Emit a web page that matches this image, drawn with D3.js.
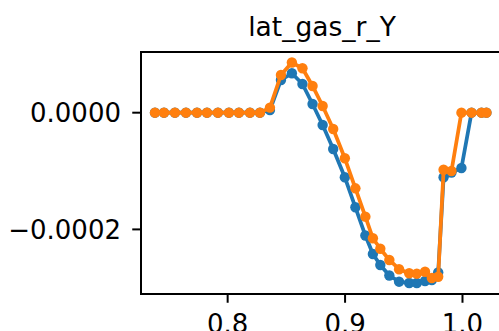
<!DOCTYPE html>
<html>
<head>
<meta charset="utf-8">
<script src="https://cdn.jsdelivr.net/npm/d3@7"></script>
<style>
  html, body { margin: 0; padding: 0; background: #fff; }
  svg { display: block; font-family: "DejaVu Sans", sans-serif; }
</style>
</head>
<body>
<svg id="chart" width="499" height="331"></svg>
<script>
const title = "lat_gas_r_Y";
const xValues = [0.7381, 0.7458, 0.7551, 0.7645, 0.7739, 0.7824, 0.7917, 0.8011, 0.8096, 0.8190,
  0.8275, 0.8360, 0.8454, 0.8547, 0.8637, 0.8723, 0.8809, 0.8899, 0.8998, 0.9088,
  0.9173, 0.9237, 0.9300, 0.9377, 0.9460, 0.9546, 0.9611, 0.9681, 0.9739, 0.9793,
  0.9839, 0.9906, 0.9991, 1.0077, 1.0162, 1.0204];
const seriesBlue = [0, 0, 0, 0, 0, 0, 0, 0, 0, 0,
  0, 0.046e-4, 0.560e-4, 0.675e-4, 0.492e-4, 0.149e-4, -0.211e-4, -0.622e-4, -1.107e-4, -1.621e-4,
  -2.105e-4, -2.422e-4, -2.610e-4, -2.790e-4, -2.896e-4, -2.919e-4, -2.919e-4, -2.884e-4, -2.867e-4, -2.739e-4,
  -1.107e-4, -1.025e-4, -0.948e-4, 0, 0, 0];
const seriesOrange = [0, 0, 0, 0, 0, 0, 0, 0, 0, 0,
  0, 0.086e-4, 0.646e-4, 0.860e-4, 0.761e-4, 0.458e-4, 0.115e-4, -0.279e-4, -0.781e-4, -1.296e-4,
  -1.782e-4, -2.152e-4, -2.332e-4, -2.524e-4, -2.682e-4, -2.752e-4, -2.759e-4, -2.725e-4, -2.833e-4, -2.811e-4,
  -0.977e-4, -0.999e-4, 0, 0, 0, 0];
const xTicks = [0.8, 0.9, 1.0];
const xTickLabels = ["0.8", "0.9", "1.0"];
const yTicks = [0, -0.0002];
const yTickLabels = ["0.0000", "\u22120.0002"];
const colors = ["#1f77b4", "#ff7f0e"];

const svg = d3.select("#chart");
const mLeft = 141, mRight = 503, mTop = 52, mBottom = 294;
const x = d3.scaleLinear().domain([0.7262, 1.0345]).range([mLeft, mRight]);
const y = d3.scaleLinear().domain([-3.107e-4, 1.040e-4]).range([mBottom, mTop]);

// title
svg.append("text").attr("x", (mLeft + mRight) / 2).attr("y", 36)
  .attr("text-anchor", "middle").attr("font-size", 26.5).attr("fill", "#000").text(title);

// series
const series = [seriesBlue, seriesOrange];
const line = d3.line().x(d => x(d[0])).y(d => y(d[1]));
series.forEach((vals, i) => {
  const pts = xValues.map((xv, j) => [xv, vals[j]]);
  const g = svg.append("g");
  g.append("path").datum(pts).attr("d", line).attr("fill", "none")
    .attr("stroke", colors[i]).attr("stroke-width", 3.75).attr("stroke-linejoin", "round").attr("stroke-linecap", "square");
  g.selectAll("circle").data(pts).join("circle")
    .attr("cx", d => x(d[0])).attr("cy", d => y(d[1])).attr("r", 5.2).attr("fill", colors[i]);
});

// spines
const spine = svg.append("g").attr("stroke", "#000").attr("stroke-width", 2).attr("fill", "none");
spine.append("rect").attr("x", mLeft).attr("y", mTop).attr("width", mRight - mLeft).attr("height", mBottom - mTop)
  .attr("stroke-linejoin", "miter");

// x axis ticks
const xAxis = svg.append("g");
xTicks.forEach((t, i) => {
  xAxis.append("line").attr("x1", x(t)).attr("x2", x(t)).attr("y1", mBottom).attr("y2", mBottom + 8.75)
    .attr("stroke", "#000").attr("stroke-width", 2);
  xAxis.append("text").attr("x", x(t)).attr("y", 332.5).attr("text-anchor", "middle")
    .attr("font-size", 26).attr("fill", "#000").text(xTickLabels[i]);
});

// y axis ticks
const yAxis = svg.append("g");
yTicks.forEach((t, i) => {
  yAxis.append("line").attr("x1", mLeft - 8.75).attr("x2", mLeft).attr("y1", y(t)).attr("y2", y(t))
    .attr("stroke", "#000").attr("stroke-width", 2);
  yAxis.append("text").attr("x", mLeft - 20).attr("y", y(t)).attr("dy", "0.36em").attr("text-anchor", "end")
    .attr("font-size", 26).attr("fill", "#000").text(yTickLabels[i]);
});
</script>
</body>
</html>
